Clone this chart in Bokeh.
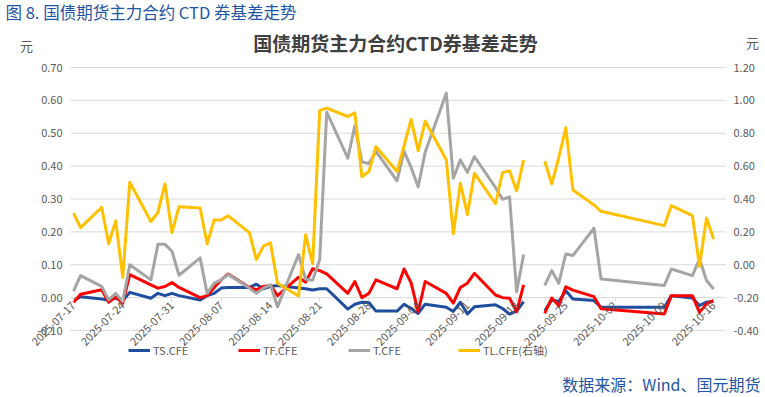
import math
from datetime import datetime, timedelta

from bokeh.plotting import figure
from bokeh.models import (Range1d, LinearAxis, DatetimeAxis, FixedTicker, PrintfTickFormatter,
                          DatetimeTickFormatter, Legend, LegendItem, Label, ColumnDataSource)
from bokeh.embed import file_html
from bokeh.resources import INLINE

# ---------------- data ----------------
dates = [
    "2025-07-17", "2025-07-18", "2025-07-21", "2025-07-22", "2025-07-23", "2025-07-24", "2025-07-25",
    "2025-07-28", "2025-07-29", "2025-07-30", "2025-07-31", "2025-08-01",
    "2025-08-04", "2025-08-05", "2025-08-06", "2025-08-07", "2025-08-08",
    "2025-08-11", "2025-08-12", "2025-08-13", "2025-08-14", "2025-08-15",
    "2025-08-18", "2025-08-19", "2025-08-20", "2025-08-21", "2025-08-22",
    "2025-08-25", "2025-08-26", "2025-08-27", "2025-08-28", "2025-08-29",
    "2025-09-01", "2025-09-02", "2025-09-03", "2025-09-04", "2025-09-05",
    "2025-09-08", "2025-09-09", "2025-09-10", "2025-09-11", "2025-09-12",
    "2025-09-15", "2025-09-16", "2025-09-17", "2025-09-18", "2025-09-19",
    "2025-09-22", "2025-09-23", "2025-09-24", "2025-09-25", "2025-09-26",
    "2025-09-29", "2025-09-30",
    "2025-10-09", "2025-10-10", "2025-10-13", "2025-10-14", "2025-10-15", "2025-10-16",
]
BREAK_AFTER = "2025-09-19"  # series are not connected across the main-contract roll

ts_cfe = [
    -0.010, 0.003, -0.004, -0.007, -0.002, -0.010, 0.016,
    -0.002, 0.013, 0.006, 0.013, 0.006,
    -0.007, 0.006, 0.013, 0.029, 0.031,
    0.031, 0.041, 0.027, 0.034, 0.037,
    0.029, 0.027, 0.023, 0.027, 0.027,
    -0.035, -0.020, -0.014, -0.015, -0.041,
    -0.041, -0.020, -0.033, -0.048, -0.020,
    -0.029, -0.042, -0.014, -0.050, -0.028,
    -0.022, -0.033, -0.050, -0.041, -0.012,
    -0.040, -0.007, -0.012, 0.021, -0.004,
    -0.009, -0.029,
    -0.029, 0.006, -0.001, -0.024, -0.014, -0.011,
]
tf_cfe = [
    -0.014, 0.010, 0.024, -0.014, 0.003, -0.017, 0.070,
    0.039, 0.029, 0.034, 0.046, 0.031,
    0.000, 0.006, 0.031, 0.054, 0.072,
    0.031, 0.024, 0.034, 0.037, 0.006,
    0.062, 0.047, 0.088, 0.082, 0.072,
    0.013, 0.049, 0.000, 0.013, 0.054,
    0.027, 0.087, 0.045, -0.043, 0.049,
    0.013, -0.017, 0.031, 0.044, 0.074,
    0.008, 0.000, -0.002, -0.043, 0.039,
    -0.048, -0.001, -0.025, 0.033, 0.023,
    0.003, -0.034,
    -0.050, 0.006, 0.006, -0.045, -0.019, -0.009,
]
t_cfe = [
    0.020, 0.067, 0.034, -0.007, 0.013, -0.012, 0.100,
    0.054, 0.162, 0.162, 0.141, 0.068,
    0.121, 0.013, 0.044, 0.054, 0.070,
    0.029, 0.013, 0.029, 0.039, -0.028,
    0.131, 0.056, 0.053, 0.115, 0.564,
    0.424, 0.523, 0.413, 0.408, 0.445,
    0.355, 0.445, 0.396, 0.337, 0.442,
    0.622, 0.363, 0.419, 0.381, 0.429,
    0.335, 0.299, 0.306, 0.018, 0.131,
    0.037, 0.082, 0.044, 0.133, 0.128,
    0.211, 0.057,
    0.037, 0.087, 0.067, 0.118, 0.052, 0.026,
]
tl_cfe = [  # right axis
    0.314, 0.226, 0.349, 0.128, 0.267, -0.077, 0.502,
    0.263, 0.318, 0.492, 0.195, 0.353,
    0.345, 0.128, 0.273, 0.273, 0.297,
    0.195, 0.031, 0.113, 0.134, -0.112,
    -0.190, 0.182, 0.006, 0.938, 0.953,
    0.902, 0.924, 0.535, 0.567, 0.718,
    0.567, 0.724, 0.884, 0.694, 0.873,
    0.639, 0.188, 0.496, 0.306, 0.557,
    0.371, 0.561, 0.571, 0.449, 0.637,
    0.630, 0.492, 0.654, 0.833, 0.455,
    0.364, 0.325,
    0.238, 0.360, 0.299, -0.009, 0.285, 0.157,
]

x_tick_labels = ["2025-07-17", "2025-07-24", "2025-07-31", "2025-08-07", "2025-08-14",
                 "2025-08-21", "2025-08-28", "2025-09-04", "2025-09-11", "2025-09-18",
                 "2025-09-25", "2025-10-02", "2025-10-09", "2025-10-16"]
left_ticks = [-0.10, 0.00, 0.10, 0.20, 0.30, 0.40, 0.50, 0.60, 0.70]
right_ticks = [-0.40, -0.20, 0.00, 0.20, 0.40, 0.60, 0.80, 1.00, 1.20]

series_names = ["TS.CFE", "TF.CFE", "T.CFE", "TL.CFE(右轴)"]
series_colors = ["#1F4E9E", "#FF0000", "#A5A5A5", "#FFC000"]

header_text = "图 8.  国债期货主力合约 CTD 券基差走势"
title_text = "国债期货主力合约CTD券基差走势"
unit_text = "元"
source_text = "数据来源：Wind、国元期货"

# ---------------- geometry (pixels of the figure) ----------------
W, H = 765, 397
PLOT_L, PLOT_R = 70, 725        # plot-area edges (x)
PLOT_T, PLOT_B = 67, 330        # plot-area edges (y, from top)
DAY_PX = (PLOT_R - PLOT_L) / 93.13
FIRST_X = PLOT_L + 0.43 * DAY_PX  # x of the first date

# ---------------- helpers ----------------
EPOCH = datetime(1970, 1, 1)


def to_dt(s):
    return datetime.strptime(s, "%Y-%m-%d")


def ms(dt):
    return (dt - EPOCH).total_seconds() * 1000.0


def with_break(vals):
    xs, ys = [], []
    for d, v in zip(dates, vals):
        xs.append(to_dt(d))
        ys.append(v)
        if d == BREAK_AFTER:
            xs.append(to_dt(d) + timedelta(days=1))
            ys.append(float("nan"))
    return xs, ys


def px_to_date(px):
    return to_dt(dates[0]) + timedelta(days=(px - FIRST_X) / DAY_PX)


L_MIN, L_MAX = left_ticks[0], left_ticks[-1]
R_MIN, R_MAX = right_ticks[0], right_ticks[-1]
L_PER_PX = (L_MAX - L_MIN) / (PLOT_B - PLOT_T)
R_PER_PX = (R_MAX - R_MIN) / (PLOT_B - PLOT_T)

CJK = "Noto Sans CJK SC"
GRAY_TXT = "#595959"
BLUE_TXT = "#1F55A5"
GRID = "#D9D9D9"

# the frame fills the whole figure; the plot area is a region inside it
x_range = Range1d(start=px_to_date(0), end=px_to_date(W))
y_range = Range1d(start=L_MIN - (H - PLOT_B) * L_PER_PX, end=L_MAX + PLOT_T * L_PER_PX)
r_range = Range1d(start=R_MIN - (H - PLOT_B) * R_PER_PX, end=R_MAX + PLOT_T * R_PER_PX)

p = figure(width=W, height=H, output_backend="svg", toolbar_location=None,
           x_axis_type=None, y_axis_type=None, x_range=x_range, y_range=y_range,
           min_border=0)
p.outline_line_color = None
p.background_fill_color = "white"
p.border_fill_color = "white"
p.grid.visible = False
p.extra_y_ranges = {"right": r_range}

# horizontal gridlines across the plot area
x_left = px_to_date(PLOT_L)
x_right = px_to_date(PLOT_R)
p.segment(x0=[x_left] * len(left_ticks), x1=[x_right] * len(left_ticks),
          y0=left_ticks, y1=left_ticks, line_color=GRID, line_width=1)

# x axis crossing at 0 on the left axis
fmt = "%Y-%m-%d"
xa = DatetimeAxis(ticker=FixedTicker(ticks=[ms(to_dt(s)) for s in x_tick_labels]),
                  formatter=DatetimeTickFormatter(days=fmt, months=fmt, years=fmt, hours=fmt,
                                                  hourmin=fmt, minutes=fmt, minsec=fmt,
                                                  seconds=fmt, milliseconds=fmt,
                                                  microseconds=fmt))
xa.fixed_location = 0
xa.major_label_orientation = math.pi / 4
xa.axis_line_color = None
xa.major_tick_line_color = GRID
xa.major_tick_in = 0
xa.major_tick_out = 4
xa.minor_tick_line_color = None
xa.major_label_standoff = 2
xa.major_label_text_font = CJK
xa.major_label_text_font_size = "11px"
xa.major_label_text_color = GRAY_TXT
p.add_layout(xa, "below")

# left axis
ya = LinearAxis(ticker=FixedTicker(ticks=left_ticks), formatter=PrintfTickFormatter(format="%.2f"))
ya.fixed_location = ms(x_left)
ya.axis_line_color = None
ya.major_tick_line_color = None
ya.minor_tick_line_color = None
ya.major_tick_in = 0
ya.major_tick_out = 0
ya.major_label_standoff = 8
ya.major_label_text_font = CJK
ya.major_label_text_font_size = "11px"
ya.major_label_text_color = GRAY_TXT
p.add_layout(ya, "left")

# right axis
ra = LinearAxis(y_range_name="right", ticker=FixedTicker(ticks=right_ticks),
                formatter=PrintfTickFormatter(format="%.2f"))
ra.fixed_location = ms(x_right)
ra.axis_line_color = None
ra.major_tick_line_color = None
ra.minor_tick_line_color = None
ra.major_tick_in = 0
ra.major_tick_out = 0
ra.major_label_standoff = 8
ra.major_label_text_font = CJK
ra.major_label_text_font_size = "11px"
ra.major_label_text_color = GRAY_TXT
p.add_layout(ra, "right")

# series
renderers = []
for vals, color, rng in [(ts_cfe, series_colors[0], "default"),
                         (tf_cfe, series_colors[1], "default"),
                         (t_cfe, series_colors[2], "default"),
                         (tl_cfe, series_colors[3], "right")]:
    xs, ys = with_break(vals)
    src = ColumnDataSource(data=dict(x=xs, y=ys))
    r = p.line("x", "y", source=src, line_color=color, line_width=3,
               line_join="round", y_range_name=rng)
    renderers.append(r)

legend = Legend(items=[LegendItem(label=n, renderers=[r]) for n, r in zip(series_names, renderers)],
                orientation="horizontal", location=(128, 39))
legend.padding = 0
legend.margin = 0
legend.spacing = 5
legend.glyph_width = 22
legend.glyph_height = 14
legend.label_height = 14
legend.label_standoff = 3
legend.label_width = 80
legend.label_text_font = CJK
legend.label_text_font_size = "11px"
legend.label_text_color = GRAY_TXT
legend.border_line_color = None
legend.background_fill_alpha = 0
p.add_layout(legend, "center")

# texts
p.add_layout(Label(x=5, y=11, x_units="canvas", y_units="canvas", text=header_text,
                   text_font=CJK, text_font_size="16.5px", text_color=BLUE_TXT,
                   text_baseline="middle", text_align="left"))
p.add_layout(Label(x=395, y=42, x_units="canvas", y_units="canvas", text=title_text,
                   text_font=CJK, text_font_size="19px", text_font_style="bold",
                   text_color="#404040", text_baseline="middle", text_align="center"))
p.add_layout(Label(x=26, y=45, x_units="canvas", y_units="canvas", text=unit_text,
                   text_font=CJK, text_font_size="13px", text_color=GRAY_TXT,
                   text_baseline="middle", text_align="center"))
p.add_layout(Label(x=752, y=42, x_units="canvas", y_units="canvas", text=unit_text,
                   text_font=CJK, text_font_size="13px", text_color=GRAY_TXT,
                   text_baseline="middle", text_align="center"))
p.add_layout(Label(x=760, y=383, x_units="canvas", y_units="canvas", text=source_text,
                   text_font=CJK, text_font_size="16px", text_color=BLUE_TXT,
                   text_baseline="middle", text_align="right"))

open("out.html", "w").write(file_html(p, INLINE))
